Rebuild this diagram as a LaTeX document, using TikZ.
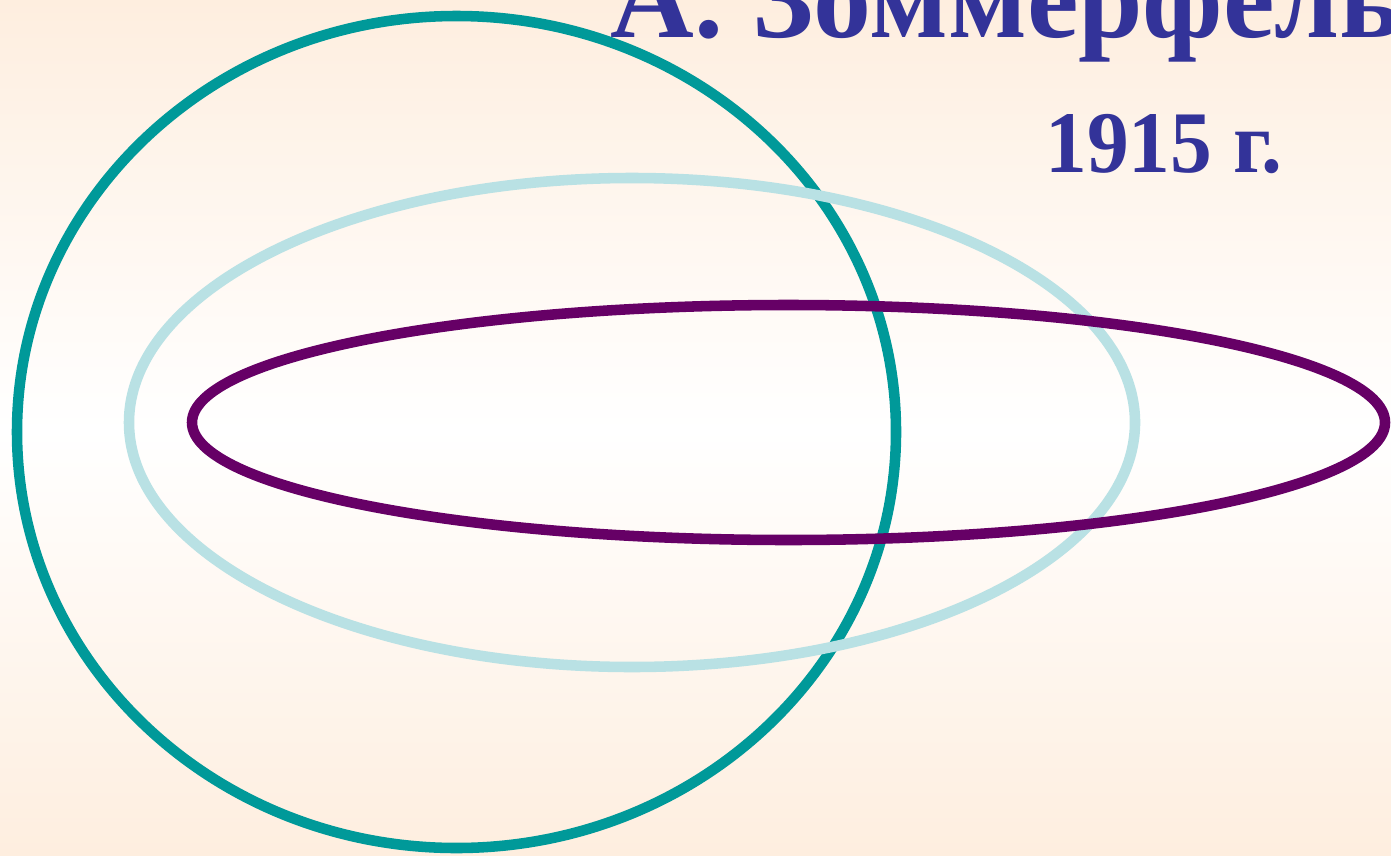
\documentclass[tikz,border=0pt]{standalone}
\usepackage{fontspec}
\setmainfont{Liberation Serif}
\usetikzlibrary{positioning}
\definecolor{cteal}{HTML}{009999}
\definecolor{cpale}{HTML}{B9E1E4}
\definecolor{cplum}{HTML}{660066}
\definecolor{cink}{HTML}{333399}
\definecolor{cpeach}{HTML}{FEEEDF}
\tikzset{
  orbit/.style={draw=#1, line width=6pt},
  orbit/.default=cteal,
  heading/.style={text=cink, font=\bfseries\fontsize{66}{78}\selectfont, inner sep=0pt, anchor=base west},
  year/.style={text=cink, font=\bfseries\fontsize{50}{60}\selectfont, inner sep=0pt, anchor=base west},
}

\begin{document}
\begin{tikzpicture}[x=0.02cm, y=-0.02cm]
  \useasboundingbox (0,0) rectangle (1391,855);
  \clip (0,0) rectangle (1391,855);
  % background
  \shade[top color=cpeach, bottom color=white] (0,0) rectangle (1391,430);
  \shade[top color=white, bottom color=cpeach] (0,429) rectangle (1391,855);
  % orbits
  \draw[orbit=cteal] (456.5,432) ellipse [x radius=439.5, y radius=416];
  \draw[orbit=cpale] (632,422.5) ellipse [x radius=503, y radius=244.5];
  \draw[orbit=cplum] (788.5,422.5) ellipse [x radius=596.5, y radius=117.5];
  \node[heading] (name) at (610,38) {А. Зоммерфельд};
  \node[year] (date) at (1045,172) {\scalebox{0.95}[1]{1915 г.}};
\end{tikzpicture}
\end{document}
